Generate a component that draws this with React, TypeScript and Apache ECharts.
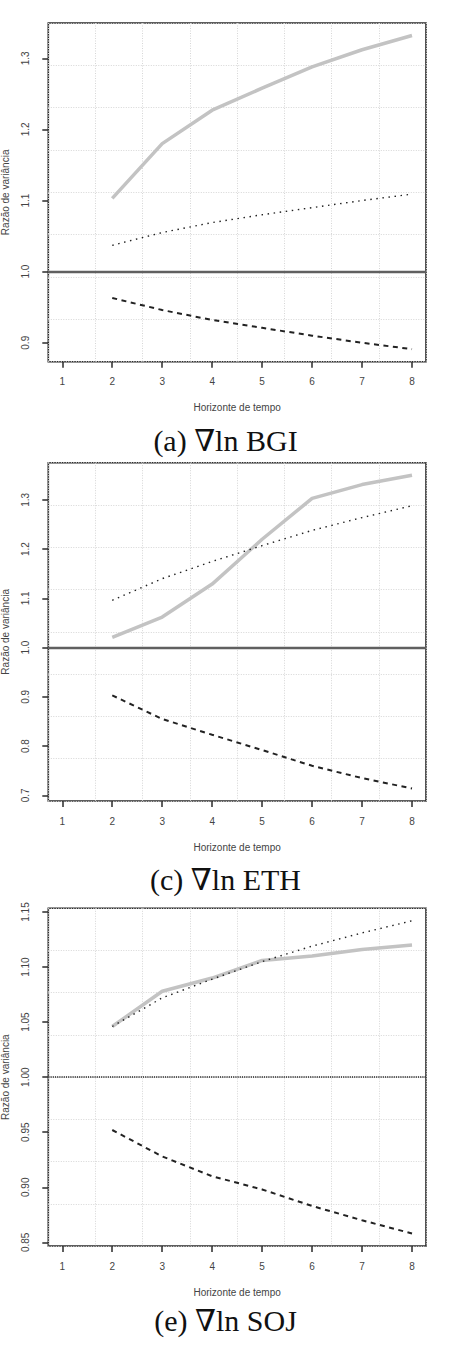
import React, { useEffect, useRef } from "react";
import * as echarts from "echarts";

// ---- data ----
const horizons = [2, 3, 4, 5, 6, 7, 8];
const xTicks = [1, 2, 3, 4, 5, 6, 7, 8];

const bgiGrey = [1.103, 1.180, 1.227, 1.258, 1.288, 1.312, 1.332];
const bgiDotted = [1.037, 1.055, 1.069, 1.080, 1.090, 1.100, 1.109];
const bgiDashed = [0.963, 0.946, 0.932, 0.921, 0.910, 0.900, 0.891];
const bgiTicks = [0.9, 1.0, 1.1, 1.2, 1.3];

const ethGrey = [1.021, 1.062, 1.129, 1.220, 1.303, 1.331, 1.350];
const ethDotted = [1.096, 1.140, 1.175, 1.207, 1.238, 1.264, 1.288];
const ethDashed = [0.903, 0.855, 0.823, 0.792, 0.760, 0.735, 0.714];
const ethTicks = [0.7, 0.8, 0.9, 1.0, 1.1, 1.2, 1.3];

const sojGrey = [1.046, 1.078, 1.090, 1.106, 1.110, 1.116, 1.120];
const sojDotted = [1.046, 1.072, 1.089, 1.105, 1.119, 1.131, 1.142];
const sojDashed = [0.952, 0.928, 0.910, 0.898, 0.883, 0.870, 0.858];
const sojTicks = [0.85, 0.9, 0.95, 1.0, 1.05, 1.1, 1.15];

const captions = ["(a) ∇ln BGI", "(c) ∇ln ETH", "(e) ∇ln SOJ"];
const xName = "Horizonte de tempo";
const yName = "Razão de variância";
const refValue = 1.0;

type Panel = {
  grey: number[];
  dotted: number[];
  dashed: number[];
  ticks: number[];
  decimals: number;
  refDotted: boolean;
};

const panels: Panel[] = [
  { grey: bgiGrey, dotted: bgiDotted, dashed: bgiDashed, ticks: bgiTicks, decimals: 1, refDotted: false },
  { grey: ethGrey, dotted: ethDotted, dashed: ethDashed, ticks: ethTicks, decimals: 1, refDotted: false },
  { grey: sojGrey, dotted: sojDotted, dashed: sojDashed, ticks: sojTicks, decimals: 2, refDotted: true },
];

// layout
const gridLeft = 48.3;
const gridWidth = 377.7;
const gridTops = [23, 462.7, 908.3];
const gridHeights = [338.7, 338.3, 337.7];
const captionY = [441.5, 880, 1321.5];

function ext(lo: number, hi: number) {
  const d = (hi - lo) * 0.04;
  return [lo - d, hi + d];
}

export default function App() {
  const ref = useRef<HTMLDivElement>(null);
  useEffect(() => {
    document.body.style.margin = "0";
    if (!ref.current) return;
    const chart = echarts.init(ref.current, null, { renderer: "svg" });
    const grids: any[] = [];
    const xAxes: any[] = [];
    const yAxes: any[] = [];
    const series: any[] = [];
    const [xmin, xmax] = ext(xTicks[0], xTicks[xTicks.length - 1]);
    const sans = "Liberation Sans, Arial, sans-serif";

    panels.forEach((p, i) => {
      grids.push({
        left: gridLeft,
        top: gridTops[i],
        width: gridWidth,
        height: gridHeights[i],
        show: true,
        containLabel: false,
        outerBoundsMode: "none",
        borderColor: "#2a2a2a",
        borderWidth: 1.6,
        backgroundColor: "transparent",
      });
      const all = [...p.grey, ...p.dotted, ...p.dashed];
      const [ymin, ymax] = ext(Math.min(...all), Math.max(...all));
      // hidden grid-line axes (R grid(8,8))
      xAxes.push({
        type: "value", gridIndex: i, position: "top", min: 0, max: 8, interval: 1,
        axisLine: { show: false }, axisTick: { show: false }, axisLabel: { show: false },
        splitLine: { show: true, lineStyle: { color: "#d6d6d6", width: 1, type: [1, 1.5] } },
      });
      yAxes.push({
        type: "value", gridIndex: i, position: "right", min: 0, max: 8, interval: 1,
        axisLine: { show: false }, axisTick: { show: false }, axisLabel: { show: false },
        splitLine: { show: true, lineStyle: { color: "#d6d6d6", width: 1, type: [1, 1.5] } },
      });
      // visible axes
      xAxes.push({
        type: "value", gridIndex: i, position: "bottom", min: xmin, max: xmax,
        name: xName, nameLocation: "middle", nameGap: 41,
        nameTextStyle: { fontFamily: sans, fontSize: 10, color: "#444" },
        axisLine: { show: false },
        axisTick: { show: true, customValues: xTicks, length: 6, lineStyle: { color: "#2a2a2a", width: 1.5 } },
        axisLabel: { show: true, customValues: xTicks, margin: 15, fontFamily: sans, fontSize: 10, color: "#444", formatter: (v: number) => String(v) },
        splitLine: { show: false },
      });
      yAxes.push({
        type: "value", gridIndex: i, position: "left", min: ymin, max: ymax,
        name: yName, nameLocation: "middle", nameGap: 38, nameRotate: 90,
        nameTextStyle: { fontFamily: sans, fontSize: 10, color: "#444" },
        axisLine: { show: false },
        axisTick: { show: true, customValues: p.ticks, length: 6, lineStyle: { color: "#2a2a2a", width: 1.5 } },
        axisLabel: { show: true, customValues: p.ticks, rotate: 90, margin: 18, fontFamily: sans, fontSize: 10, color: "#444", formatter: (v: number) => v.toFixed(p.decimals) },
        splitLine: { show: false },
      });
      const xi = i * 2 + 1;
      const yi = i * 2 + 1;
      const mk = (vals: number[]) => horizons.map((h, k) => [h, vals[k]]);
      series.push({
        type: "line", xAxisIndex: xi, yAxisIndex: yi, data: mk(p.grey), symbol: "none",
        lineStyle: { color: "#c3c3c3", width: 3.5, type: "solid" },
        markLine: {
          silent: true, symbol: "none", label: { show: false },
          lineStyle: p.refDotted
            ? { color: "#222", width: 1.6, type: [1.2, 1] }
            : { color: "#606060", width: 2.4, type: "solid" },
          data: [{ yAxis: refValue }],
        },
      });
      series.push({
        type: "line", xAxisIndex: xi, yAxisIndex: yi, data: mk(p.dotted), symbol: "none",
        lineStyle: { color: "#222", width: 1.4, type: [1.5, 4.6] },
      });
      series.push({
        type: "line", xAxisIndex: xi, yAxisIndex: yi, data: mk(p.dashed), symbol: "none",
        lineStyle: { color: "#222", width: 2, type: [5, 4.5] },
      });
    });

    chart.setOption({
      animation: false,
      backgroundColor: "#ffffff",
      grid: grids,
      xAxis: xAxes,
      yAxis: yAxes,
      series,
      graphic: captions.map((c, i) => ({
        type: "text",
        left: "center",
        top: captionY[i] - 16,
        style: {
          text: c,
          fontFamily: "Liberation Serif, DejaVu Serif, serif",
          fontSize: 30,
          fill: "#111",
        },
      })),
    });
    return () => chart.dispose();
  }, []);
  return (
    <div
      ref={ref}
      style={{ position: "absolute", left: 0, top: 0, width: 451, height: 1351 }}
    />
  );
}
